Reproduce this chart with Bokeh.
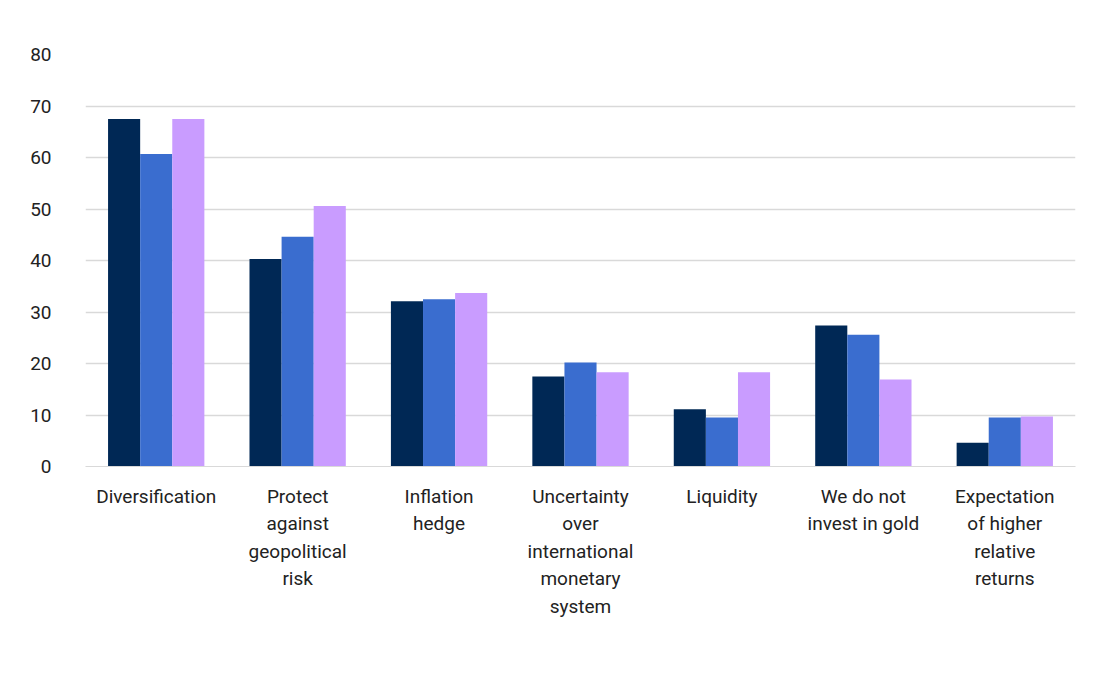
from bokeh.plotting import figure
from bokeh.models import FixedTicker, Range1d, Legend, LegendItem, ColumnDataSource
from bokeh.embed import file_html
from bokeh.resources import INLINE

categories = ["Diversification", "Protect\nagainst\ngeopolitical\nrisk", "Inflation\nhedge",
              "Uncertainty\nover\ninternational\nmonetary\nsystem", "Liquidity",
              "We do not\ninvest in gold", "Expectation\nof higher\nrelative\nreturns"]
years = ["2024", "2025", "2026"]
v2024 = [67.5, 40.3, 32.1, 17.5, 11.1, 27.4, 4.6]
v2025 = [60.7, 44.6, 32.5, 20.2, 9.5, 25.6, 9.5]
v2026 = [67.5, 50.6, 33.7, 18.3, 18.3, 16.9, 9.7]
colors = ["#002855", "#3a6dcf", "#c99cff"]

p = figure(frame_width=990, frame_height=412, output_backend="svg", toolbar_location=None,
           x_range=Range1d(0, 7), y_range=Range1d(0, 80),
           min_border_left=85, min_border_right=17, min_border_top=54, min_border_bottom=0)
p.outline_line_color = None
bw = 0.227
items = []
for k, (vals, c, y) in enumerate(zip([v2024, v2025, v2026], colors, years)):
    src = ColumnDataSource(dict(x=[i + 0.5 + (k - 1) * bw for i in range(7)], top=vals))
    r = p.vbar(x="x", top="top", width=bw, source=src, color=c, line_color=None)
    items.append(LegendItem(label=y, renderers=[r]))

p.xaxis.ticker = FixedTicker(ticks=[i + 0.5 for i in range(7)])
p.xaxis.major_label_overrides = {i + 0.5: categories[i] for i in range(7)}
p.yaxis.ticker = FixedTicker(ticks=list(range(0, 81, 10)))
for ax in (p.xaxis, p.yaxis):
    ax.axis_line_color = None
    ax.major_tick_line_color = None
    ax.minor_tick_line_color = None
    ax.major_label_text_font = "Roboto"
    ax.major_label_text_font_size = "19px"
    ax.major_label_text_color = "#222222"
p.xaxis.axis_line_color = "#d9d9d9"
p.xaxis.major_label_standoff = 12
p.yaxis.major_label_standoff = 28
p.xgrid.grid_line_color = None
p.ygrid.grid_line_color = "#d9d9d9"
p.ygrid.grid_line_width = 1.5

leg = Legend(items=items, orientation="horizontal", location="center",
             label_text_font="Roboto", label_text_font_size="19px", label_text_color="#222222",
             glyph_width=14, glyph_height=14, spacing=12, label_standoff=4,
             border_line_color=None, background_fill_alpha=0, margin=0, padding=4)
leg.margin = 28
p.add_layout(leg, "below")

open("out.html", "w").write(file_html(p, INLINE))
